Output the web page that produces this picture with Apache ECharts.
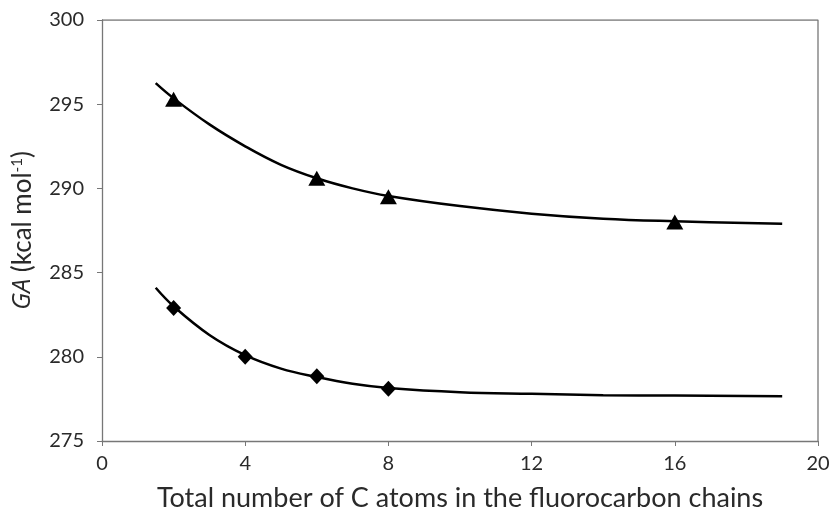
<!DOCTYPE html>
<html lang="en">
<head>
    <meta charset="UTF-8">
    <title>GA vs total number of C atoms</title>
    <style type="text/css">
        *{
            margin: 0;
            padding: 0;
        }
        #main{
            width: 833px;
            height: 517px;
            position: absolute;
        }
    </style>
</head>
<body>
    <div id="main"></div>
    <script src="https://cdn.jsdelivr.net/npm/echarts@6/dist/echarts.min.js"></script>
    <script type="text/javascript">
        var myChart = echarts.init(document.getElementById('main'));

        // measured points
        var triangleX = [2, 6, 8, 16];
        var triangleY = [295.3, 290.6, 289.5, 288.0];
        var diamondX = [2, 4, 6, 8];
        var diamondY = [282.9, 280.0, 278.85, 278.1];

        // fitted curves
        var curveX = [1.5, 2, 3, 4, 5, 6, 7, 8, 10, 12, 14, 16, 19];
        var upperCurve = [296.25, 295.35, 293.8, 292.5, 291.4, 290.6, 290.0, 289.55, 288.95, 288.5, 288.2, 288.05, 287.9];
        var lowerCurve = [284.1, 283.0, 281.3, 280.1, 279.3, 278.8, 278.4, 278.15, 277.9, 277.8, 277.72, 277.7, 277.65];

        var xTicks = [0, 4, 8, 12, 16, 20];

        function pairs(xs, ys) {
            return xs.map(function (x, i) { return [x, ys[i]]; });
        }

        var font = 'Lato, "Open Sans", sans-serif';
        var textColor = '#2a2a2a';
        var curveStyle = { width: 2.5, color: '#000' };

        var option = {
            animation: false,
            backgroundColor: '#fff',
            grid: {
                left: 102,
                top: 20,
                right: 15,
                bottom: 75
            },
            xAxis: {
                type: 'value',
                min: 0,
                max: 20,
                interval: 4,
                name: 'Total number of C atoms in the fluorocarbon chains',
                nameLocation: 'middle',
                nameGap: 44,
                nameTextStyle: { fontFamily: font, fontSize: 27, color: textColor },
                axisLine: { lineStyle: { color: '#777', width: 1.3 } },
                axisTick: { show: true, inside: false, length: 5, lineStyle: { color: '#777' } },
                axisLabel: {
                    fontFamily: font, fontSize: 20, color: textColor, margin: 13,
                    formatter: function (v) { return xTicks.indexOf(v) >= 0 ? String(v) : ''; }
                },
                splitLine: { show: false }
            },
            yAxis: [{
                type: 'value',
                min: 275,
                max: 300,
                interval: 5,
                name: '{i|GA} {n|(kcal mol}{s|-1}{n|)}',
                nameLocation: 'middle',
                nameGap: 66,
                nameRotate: 90,
                nameTextStyle: {
                    fontFamily: font, fontSize: 26, color: textColor,
                    rich: {
                        i: { fontFamily: '"Open Sans", Lato, sans-serif', fontSize: 25, fontStyle: 'italic', color: textColor },
                        n: { fontFamily: font, fontSize: 26, color: textColor },
                        s: { fontFamily: font, fontSize: 15, color: textColor, padding: [0, 0, 11, 0] }
                    }
                },
                axisLine: { show: true, lineStyle: { color: '#777', width: 1.3 } },
                axisTick: { show: true, inside: false, length: 5, lineStyle: { color: '#777' } },
                axisLabel: { fontFamily: font, fontSize: 20, color: textColor, margin: 18 },
                splitLine: { show: false }
            }],
            series: [
                {
                    name: 'upper fit',
                    type: 'line',
                    data: pairs(curveX, upperCurve),
                    smooth: 0.4,
                    symbol: 'none',
                    lineStyle: curveStyle,
                    z: 2
                },
                {
                    name: 'lower fit',
                    type: 'line',
                    data: pairs(curveX, lowerCurve),
                    smooth: 0.4,
                    symbol: 'none',
                    lineStyle: curveStyle,
                    z: 2
                },
                {
                    name: 'triangles',
                    type: 'scatter',
                    data: pairs(triangleX, triangleY),
                    symbol: 'triangle',
                    symbolSize: [17, 15],
                    itemStyle: { color: '#000', opacity: 1 },
                    z: 3
                },
                {
                    name: 'diamonds',
                    type: 'scatter',
                    data: pairs(diamondX, diamondY),
                    symbol: 'diamond',
                    symbolSize: [15, 16],
                    itemStyle: { color: '#000', opacity: 1 },
                    z: 3
                },
                {
                    // frame top and right
                    name: 'frame',
                    type: 'line',
                    data: [[0, 300], [20, 300], [20, 275]],
                    symbol: 'none',
                    silent: true,
                    lineStyle: { color: '#777', width: 1.3 },
                    z: 1
                }
            ]
        };

        myChart.setOption(option);
    </script>
</body>
</html>
